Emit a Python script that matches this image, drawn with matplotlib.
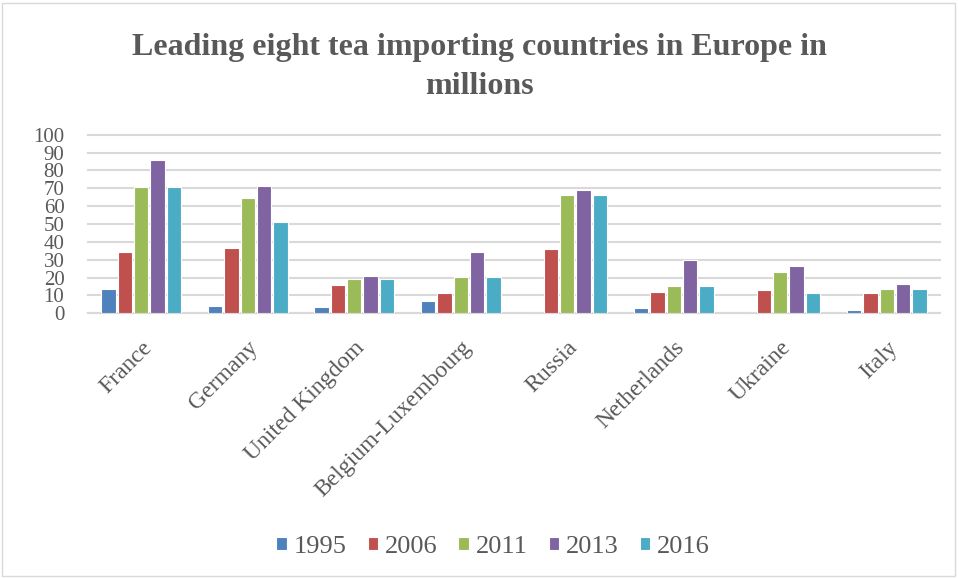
import matplotlib
matplotlib.use("Agg")
import matplotlib.pyplot as plt
import numpy as np
from matplotlib.patches import Rectangle

countries = ["France", "Germany", "United Kingdom", "Belgium-Luxembourg",
             "Russia", "Netherlands", "Ukraine", "Italy"]
years = ["1995", "2006", "2011", "2013", "2016"]
v1995 = [13.6, 4.1, 3.4, 6.9, 0, 2.8, 0, 1.8]
v2006 = [34.1, 36.7, 15.7, 11.4, 36.2, 12.1, 13.0, 11.5]
v2011 = [70.7, 64.5, 19.4, 20.5, 66.2, 15.3, 23.3, 13.8]
v2013 = [85.6, 71.4, 20.9, 34.3, 69.0, 30.0, 26.5, 16.4]
v2016 = [70.7, 51.3, 19.4, 20.5, 66.2, 15.3, 11.2, 13.8]
series = [v1995, v2006, v2011, v2013, v2016]
colors = ["#4F81BD", "#C0504D", "#9BBB59", "#8064A2", "#4BACC6"]

plt.rcParams['font.family'] = ['Liberation Serif', 'DejaVu Serif']
text_col = "#595959"

fig = plt.figure(figsize=(9.59, 5.78), dpi=100)
ax = fig.add_axes([88/959, 1-313.3/578, (940-88)/959, (313.3-134.7)/578])

x = np.arange(len(countries))
pitch = 0.153
bw = 0.135
for i, (vals, c) in enumerate(zip(series, colors)):
    ax.bar(x + (i - 2) * pitch, vals, width=bw, color=c, edgecolor="white",
           linewidth=0.8, label=years[i], zorder=3)

ax.set_xlim(-0.5, len(countries) - 0.5)
ax.set_ylim(0, 100)
ax.set_yticks(np.arange(0, 101, 10))
ax.yaxis.grid(True, color="#D9D9D9", linewidth=1.5, zorder=0)
ax.set_axisbelow(True)
for s in ["top", "right", "left"]:
    ax.spines[s].set_visible(False)
ax.spines["bottom"].set_color("#D9D9D9")
ax.spines["bottom"].set_linewidth(1.5)
for gl in ax.get_ygridlines():
    gl.set_clip_on(False)
ax.tick_params(axis="y", length=0, colors=text_col, labelsize=15, pad=17)
ax.tick_params(axis="x", length=0, colors=text_col, labelsize=17, pad=17)
ax.set_xticks(x)
ax.set_xticklabels(countries, rotation=45, ha="right", rotation_mode="anchor")

fig.text(0.5, 1-67/578, "Leading eight tea importing countries in Europe in\nmillions",
         ha="center", va="center", fontsize=23, fontweight="bold", color=text_col,
         linespacing=1.45)

leg = ax.legend(loc="center", bbox_to_anchor=(493/959, 1-547/578), bbox_transform=fig.transFigure,
                ncol=5, frameon=False, fontsize=19, handlelength=0.4, handleheight=0.4,
                handletextpad=0.25, columnspacing=0.8)
for t in leg.get_texts():
    t.set_color(text_col)

fig.patches.append(Rectangle((2/959, 2/578), 953/959, 573/578, transform=fig.transFigure,
                             fill=False, edgecolor="#D9D9D9", linewidth=1))

fig.savefig("out.png", dpi=100)
